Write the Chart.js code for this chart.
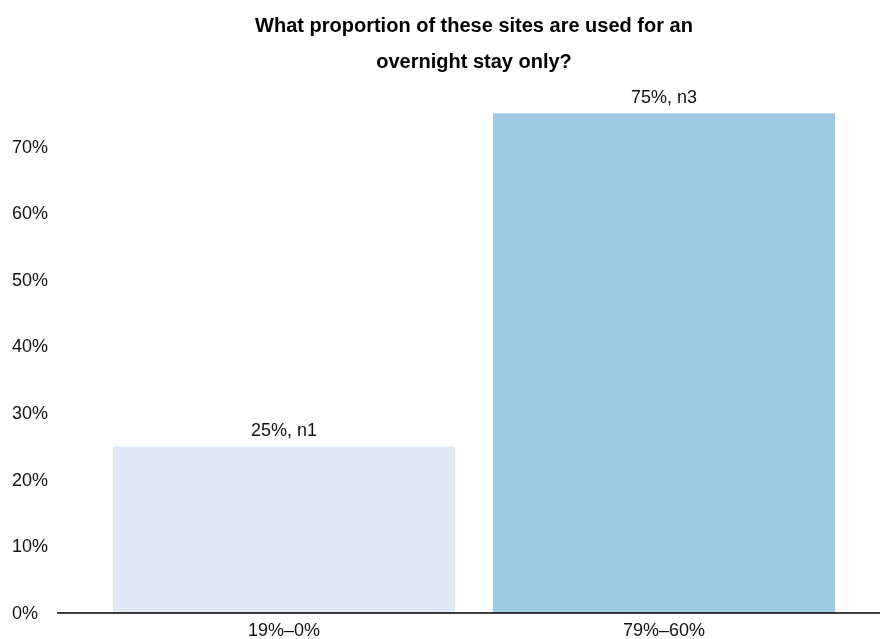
<!DOCTYPE html>
<html>
<head>
<meta charset="utf-8">
<script src="https://cdn.jsdelivr.net/npm/chart.js@4/dist/chart.umd.min.js"></script>
<style>
  html, body { margin: 0; padding: 0; background: #fff; }
  #wrap { width: 880px; height: 639px; position: relative; }
</style>
</head>
<body>
<div id="wrap"><canvas id="chart"></canvas></div>
<script>
// Share of sites used for an overnight stay only, by band
const categories = ['19%\u20130%', '79%\u201360%'];
const shares = [0.25, 0.75];
const counts = [1, 3];
const barColors = ['#dee9f5', '#9ecae1'];
const titleLines = ['What proportion of these sites are used for an', 'overnight stay only?'];

const FONT = '"Liberation Sans", Arial, Helvetica, sans-serif';

// Value label above each bar: "NN%, nK"
const barLabels = {
  id: 'barLabels',
  afterDatasetsDraw(chart) {
    const ctx = chart.ctx;
    const meta = chart.getDatasetMeta(0);
    ctx.save();
    ctx.font = '18px ' + FONT;
    ctx.fillStyle = '#111';
    ctx.textAlign = 'center';
    ctx.textBaseline = 'middle';
    meta.data.forEach((bar, i) => {
      const txt = Math.round(shares[i] * 100) + '%, n' + counts[i];
      ctx.fillText(txt, bar.x, bar.y - 15);
    });
    ctx.restore();
  }
};

// Baseline running under the bars across the plot
const baseline = {
  id: 'baseline',
  afterDatasetsDraw(chart) {
    const ctx = chart.ctx;
    const y = chart.scales.y.getPixelForValue(0);
    ctx.save();
    ctx.strokeStyle = '#000';
    ctx.lineWidth = 1.5;
    ctx.beginPath();
    ctx.moveTo(chart.chartArea.left - 37, y);
    ctx.lineTo(chart.width, y);
    ctx.stroke();
    ctx.restore();
  }
};

new Chart(document.getElementById('chart'), {
  type: 'bar',
  data: {
    labels: categories,
    datasets: [{
      data: shares,
      backgroundColor: barColors,
      borderWidth: 0,
      categoryPercentage: 0.9,
      barPercentage: 1.0
    }]
  },
  options: {
    responsive: true,
    maintainAspectRatio: false,
    animation: false,
    layout: { padding: { left: 12, right: 26, top: 0, bottom: 0 } },
    plugins: {
      legend: { display: false },
      tooltip: { enabled: false },
      title: {
        display: true,
        text: titleLines,
        fullSize: false,
        color: '#000',
        font: { family: FONT, size: 20, weight: 'bold', lineHeight: 1.8 },
        padding: { top: 8, bottom: 0 }
      }
    },
    scales: {
      x: {
        grid: { display: false, drawTicks: false },
        border: { display: false },
        ticks: { color: '#111', padding: 7, font: { family: FONT, size: 18 } },
        afterFit(scale) { scale.height = 26; }
      },
      y: {
        min: 0,
        max: 0.8,
        grid: { display: false, drawTicks: false },
        border: { display: false },
        ticks: {
          stepSize: 0.1,
          crossAlign: 'far',
          labelOffset: 1,
          color: '#111',
          font: { family: FONT, size: 18 },
          callback: v => Math.round(v * 100) + '%'
        },
        afterBuildTicks(scale) {
          scale.ticks = scale.ticks.filter(t => t.value < 0.75);
        },
        afterFit(scale) { scale.width = 82; }
      }
    }
  },
  plugins: [barLabels, baseline]
});
</script>
</body>
</html>
